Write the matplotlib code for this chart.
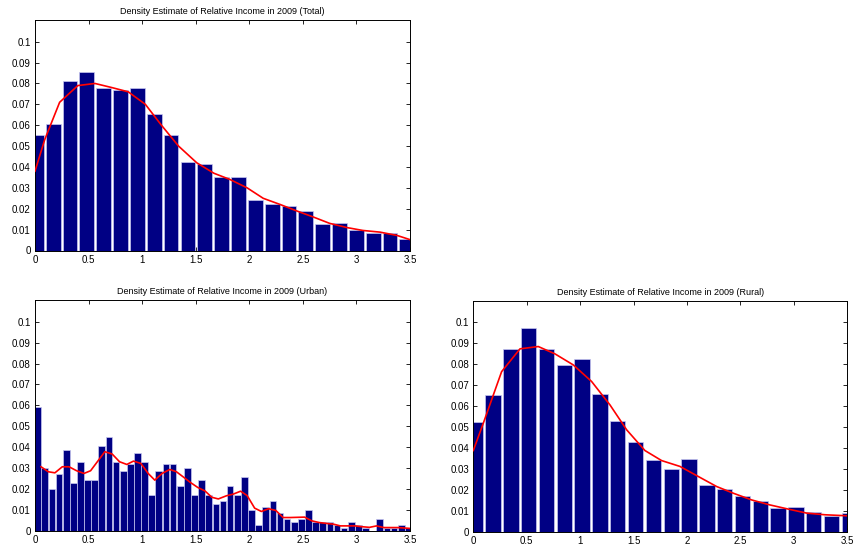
import numpy as np
import matplotlib
matplotlib.use('Agg')
import matplotlib.pyplot as plt

plt.rcParams['font.family'] = ['Liberation Sans', 'DejaVu Sans']

# Histogram densities (bin heights) for each group
total_hist = [0.0552, 0.0608, 0.0811, 0.0853, 0.0779, 0.0771, 0.0778, 0.0653,
              0.0552, 0.0422, 0.0413, 0.0350, 0.0350, 0.0243, 0.0224, 0.0213,
              0.0187, 0.0126, 0.0134, 0.0098, 0.0085, 0.0085, 0.0056]
total_bins = np.linspace(0.013, 3.47, len(total_hist))

urban_hist = [0.0593, 0.0298, 0.0199, 0.0271, 0.0386, 0.0230, 0.0330, 0.0242,
              0.0242, 0.0405, 0.0447, 0.0330, 0.0287, 0.0317, 0.0373, 0.0330,
              0.0171, 0.0287, 0.0317, 0.0317, 0.0215, 0.0298, 0.0171, 0.0242,
              0.0171, 0.0128, 0.0142, 0.0215, 0.0171, 0.0258, 0.0099, 0.0027,
              0.0112, 0.0142, 0.0083, 0.0056, 0.0043, 0.0056, 0.0099, 0.0043,
              0.0040, 0.0040, 0.0027, 0.0014, 0.0040, 0.0027, 0.0014, 0.0,
              0.0056, 0.0014, 0.0014, 0.0027, 0.0014]
urban_bins = np.linspace(0.025, 3.484, len(urban_hist))

rural_hist = [0.0524, 0.0650, 0.0873, 0.0971, 0.0873, 0.0795, 0.0826, 0.0658,
              0.0529, 0.0427, 0.0341, 0.0299, 0.0347, 0.0221, 0.0202, 0.0170,
              0.0148, 0.0110, 0.0116, 0.0092, 0.0072, 0.0088]
rural_bins = np.linspace(0.018, 3.52, len(rural_hist))

# Kernel density estimates (red curves)
total_kde_x = [0, 0.09, 0.23, 0.40, 0.56, 0.72, 0.87, 1.03, 1.18, 1.34, 1.51,
               1.67, 1.82, 1.98, 2.13, 2.29, 2.44, 2.60, 2.75, 2.91, 3.06,
               3.22, 3.38, 3.5]
total_kde_y = [0.038, 0.053, 0.071, 0.079, 0.080, 0.078, 0.076, 0.070, 0.060,
               0.050, 0.042, 0.037, 0.034, 0.030, 0.025, 0.022, 0.019, 0.016,
               0.013, 0.011, 0.0096, 0.0088, 0.0072, 0.0052]

urban_kde_x = [0.056, 0.124, 0.186, 0.255, 0.317, 0.388, 0.457, 0.519, 0.652,
               0.72, 0.789, 0.857, 0.919, 0.988, 1.056, 1.118, 1.186, 1.258,
               1.32, 1.382, 1.45, 1.519, 1.587, 1.65, 1.711, 1.786, 1.85,
               1.919, 1.98, 2.05, 2.113, 2.181, 2.247, 2.316, 2.381, 2.516,
               2.584, 2.653, 2.719, 2.788, 2.85, 2.988, 3.053, 3.122, 3.188,
               3.256, 3.388, 3.5]
urban_kde_y = [0.0306, 0.0282, 0.0277, 0.0306, 0.0306, 0.0287, 0.0274, 0.0287,
               0.0378, 0.0367, 0.0330, 0.0317, 0.0333, 0.0322, 0.0274, 0.0242,
               0.0274, 0.0293, 0.0282, 0.0258, 0.0231, 0.0207, 0.0190, 0.0160,
               0.0152, 0.0167, 0.0175, 0.0189, 0.0168, 0.0108, 0.0092, 0.0105,
               0.0097, 0.0063, 0.0063, 0.0065, 0.0047, 0.0039, 0.0035, 0.0031,
               0.0023, 0.0023, 0.0019, 0.0016, 0.0023, 0.0015, 0.0015, 0.0011]

rural_kde_x = [0, 0.094, 0.265, 0.437, 0.608, 0.764, 0.936, 1.107, 1.279,
               1.435, 1.606, 1.762, 1.934, 2.105, 2.277, 2.433, 2.604, 2.776,
               2.948, 3.119, 3.29, 3.5]
rural_kde_y = [0.0387, 0.0518, 0.0764, 0.0873, 0.0884, 0.0849, 0.0796, 0.0717,
               0.0605, 0.0486, 0.0387, 0.0339, 0.0311, 0.0263, 0.0215, 0.0183,
               0.0151, 0.0127, 0.0107, 0.0088, 0.0080, 0.0075]

yticks = [0, 0.01, 0.02, 0.03, 0.04, 0.05, 0.06, 0.07, 0.08, 0.09, 0.1]
ytick_labels = ['0', '0.01', '0.02', '0.03', '0.04', '0.05', '0.06', '0.07',
                '0.08', '0.09', '0.1']
xticks = [0, 0.5, 1, 1.5, 2, 2.5, 3, 3.5]
xtick_labels = ['0', '0.5', '1', '1.5', '2', '2.5', '3', '3.5']

W, H = 856, 550


def panel(rect_px, bins, hist, kde_x, kde_y, title, frac):
    x0, y0, x1, y1 = rect_px
    ax = fig.add_axes([x0 / W, 1 - y1 / H, (x1 - x0) / W, (y1 - y0) / H])
    width = (bins[1] - bins[0]) * frac
    ax.bar(bins, hist, width=width, color='#000084', edgecolor='#c8c8f0',
           linewidth=0.5, zorder=2)
    ax.plot(kde_x, kde_y, color='red', linewidth=1.2, zorder=3)
    ax.set_xlim(0, 3.5)
    ax.set_ylim(0, 0.1104)
    ax.set_xticks(xticks)
    ax.set_xticklabels(xtick_labels)
    ax.set_yticks(yticks)
    ax.set_yticklabels(ytick_labels)
    ax.tick_params(direction='in', length=3, width=0.6, labelsize=7,
                   top=True, right=True, pad=3)
    for s in ax.spines.values():
        s.set_linewidth(0.7)
    ax.set_title(title, fontsize=6.5, pad=4)
    return ax


fig = plt.figure(figsize=(W / 100, H / 100), dpi=100)

panel((35, 20, 410, 250.5), total_bins, total_hist, total_kde_x, total_kde_y,
      'Density Estimate of Relative Income in 2009 (Total)', 0.88)
panel((35, 300, 410, 530.7), urban_bins, urban_hist, urban_kde_x, urban_kde_y,
      'Density Estimate of Relative Income in 2009 (Urban)', 0.94)
panel((473.3, 300.5, 847.3, 531.5), rural_bins, rural_hist, rural_kde_x,
      rural_kde_y, 'Density Estimate of Relative Income in 2009 (Rural)', 0.86)

fig.savefig('out.png', dpi=100)
